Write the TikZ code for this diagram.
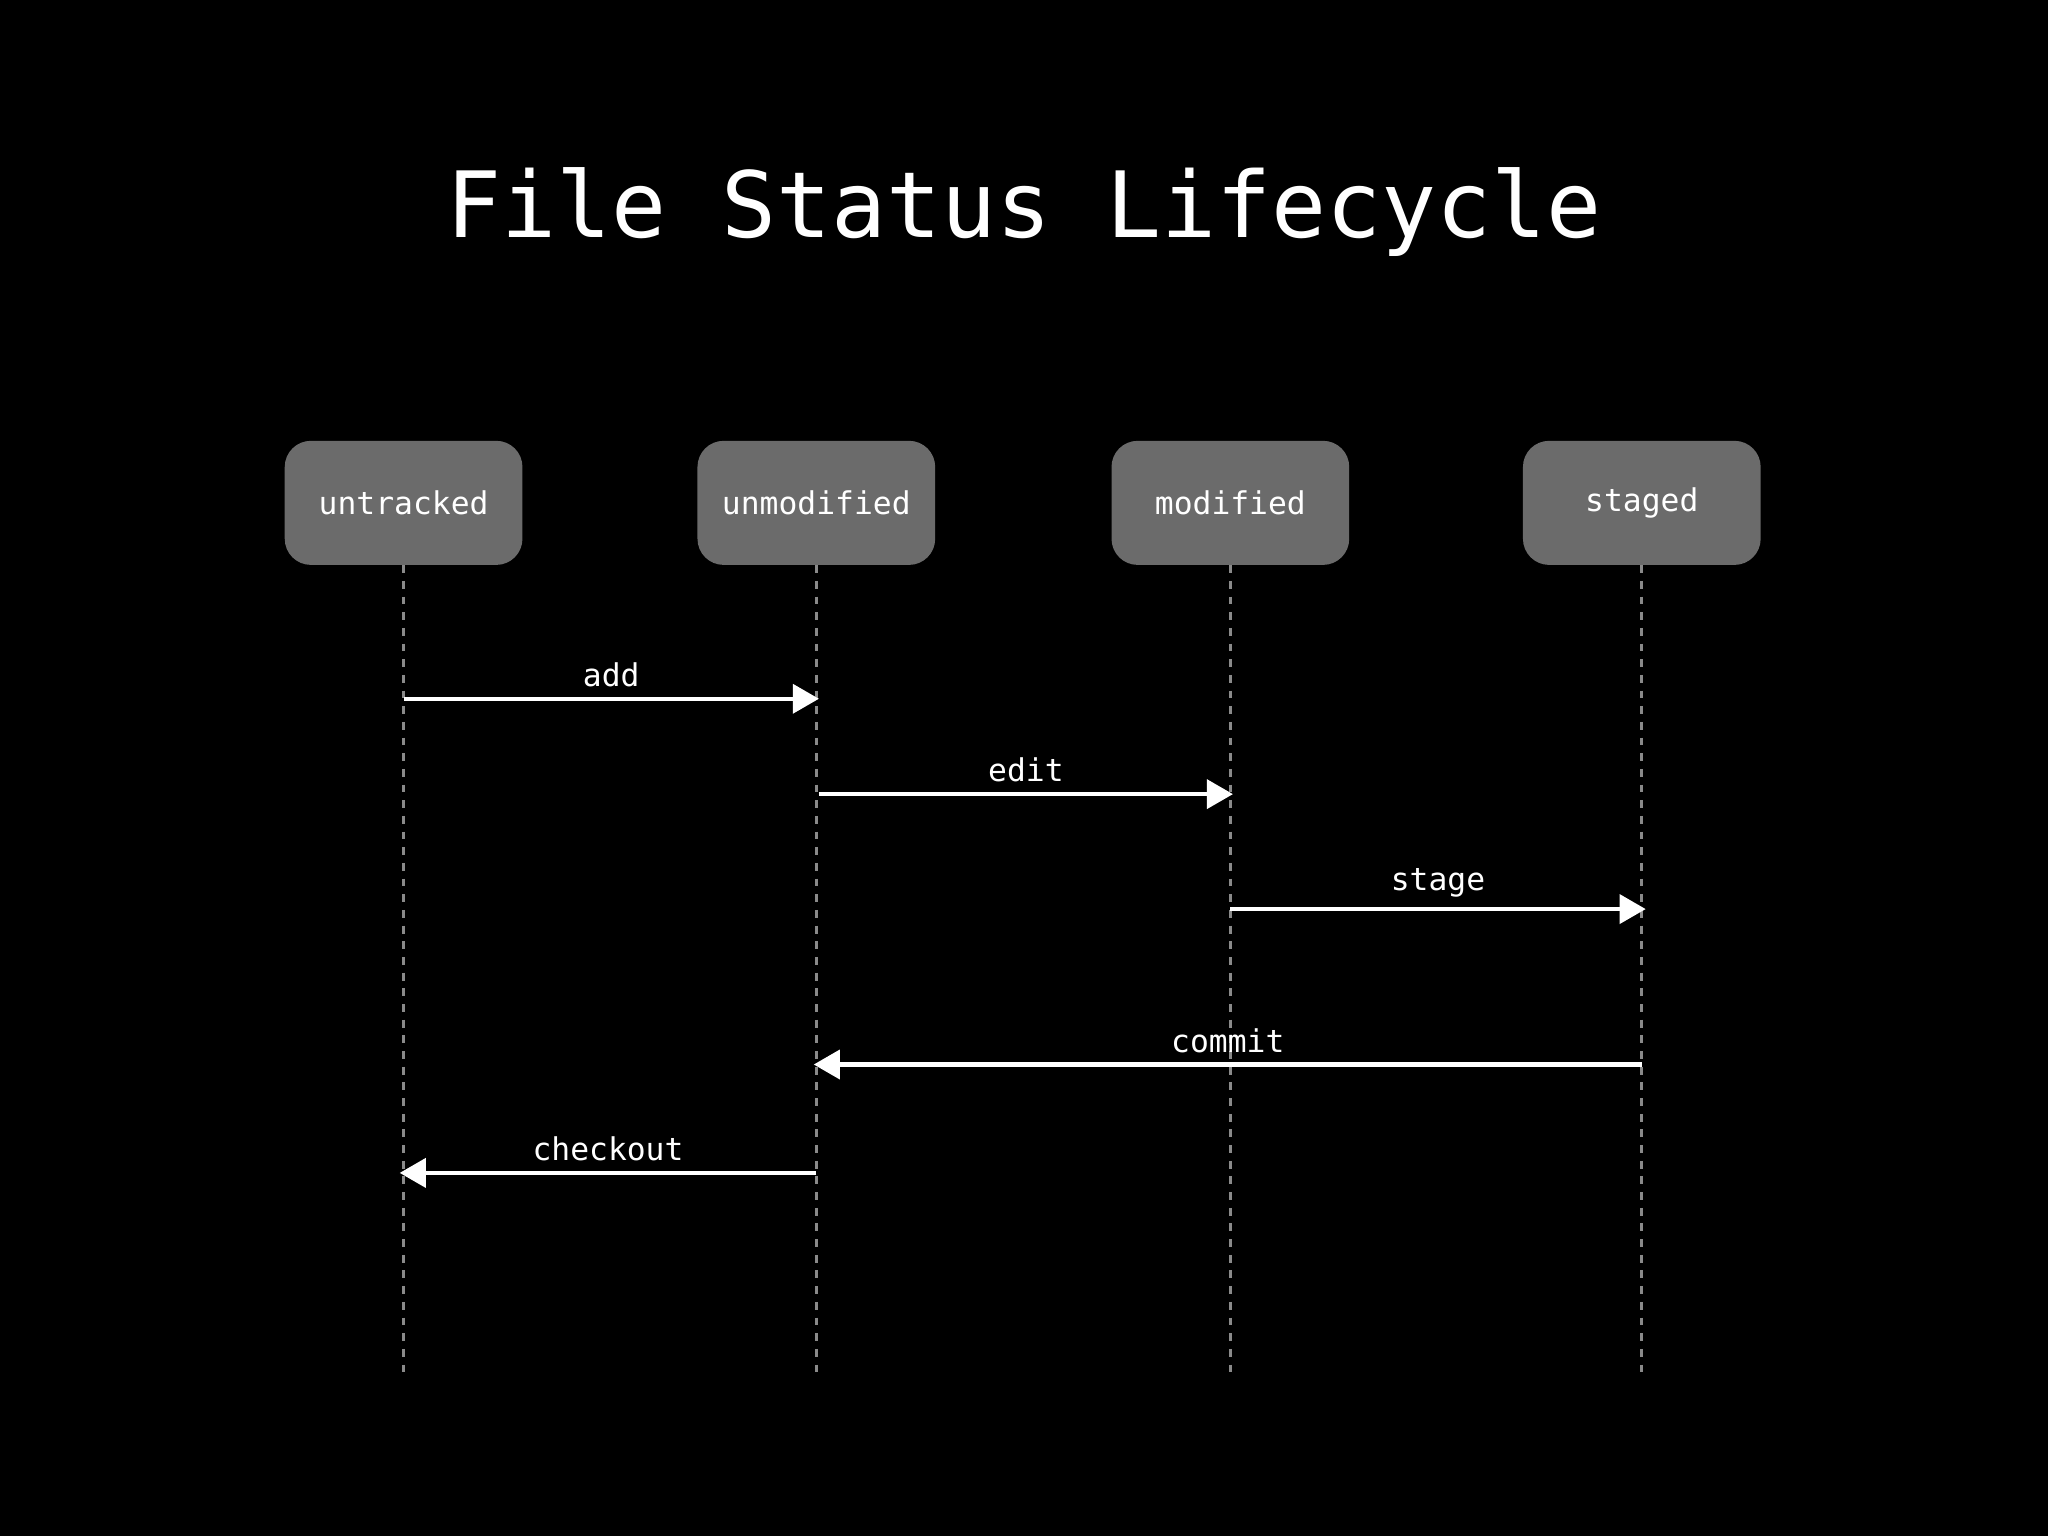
\documentclass[tikz,border=0pt]{standalone}
\usepackage{fontspec}
\setmonofont{DejaVu Sans Mono}
\usetikzlibrary{arrows.meta}
\definecolor{boxgray}{HTML}{6B6B6B}
\definecolor{linegray}{HTML}{8A8A8A}
\begin{document}
\begin{tikzpicture}[x=1pt,y=-1pt,
  state/.style={fill=boxgray,rounded corners=20pt,minimum width=182pt,minimum height=95pt,text=white,font=\ttfamily\fontsize{24}{28}\selectfont},
  life/.style={draw=linegray,line width=2.5pt,dash pattern=on 6pt off 6pt},
  msg/.style={draw=white,line width=3.5pt,-{Triangle[length=20pt,width=22pt,fill=white]}},
  lbl/.style={text=white,font=\ttfamily\fontsize{24}{28}\selectfont}]
\fill[black] (0,0) rectangle (1568,1176);
\useasboundingbox (0,0) rectangle (1568,1176);
\node[text=white,font=\ttfamily\fontsize{70}{80}\selectfont] (title) at (784,162) {File Status Lifecycle};
\node[state] (u) at (309,385) {untracked};
\node[state] (n) at (625,385) {unmodified};
\node[state] (m) at (942,385) {modified};
\node[state] (s) at (1257,385) {staged};
\foreach \a/\x in {ue/309,ne/625,me/942,se/1257}{\coordinate (\a) at (\x,1055);}
\draw[life] (u.south) -- (ue);
\draw[life] (n.south) -- (ne);
\draw[life] (m.south) -- (me);
\draw[life] (s.south) -- (se);
\coordinate (a1) at (309,535); \coordinate (a2) at (627,535);
\coordinate (b1) at (627,608); \coordinate (b2) at (944,608);
\coordinate (c1) at (942,696); \coordinate (c2) at (1260,696);
\coordinate (d1) at (1257,815); \coordinate (d2) at (623,815);
\coordinate (e1) at (625,898); \coordinate (e2) at (306,898);
\draw[msg] (a1) -- node[lbl,above=4pt] (la) {add} (a2);
\draw[msg] (b1) -- node[lbl,above=4pt] (lb) {edit} (b2);
\draw[msg] (c1) -- node[lbl,above=4pt] (lc) {stage} (c2);
\draw[msg] (d1) -- node[lbl,above=4pt] (ld) {commit} (d2);
\draw[msg] (e1) -- node[lbl,above=4pt] (le) {checkout} (e2);
\end{tikzpicture}
\end{document}
